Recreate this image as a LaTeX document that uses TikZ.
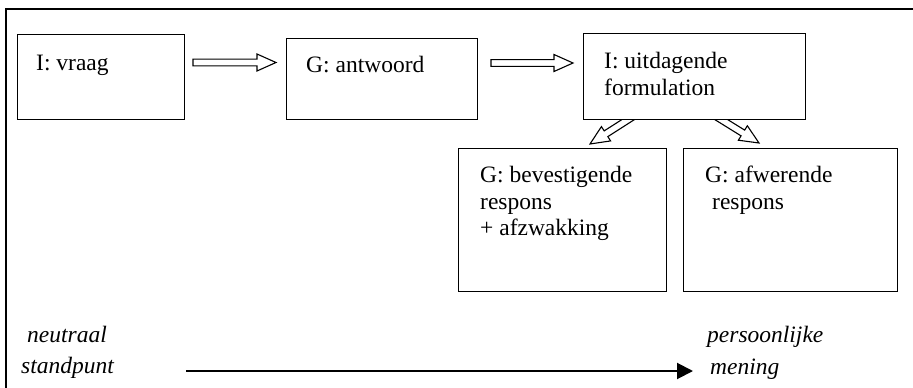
\documentclass[tikz,border=0pt]{standalone}
\usepackage{fontspec}
\setmainfont{Liberation Serif}
\usetikzlibrary{calc,arrows.meta}

% hollow block arrow from #1 (tail) to #2 (tip)
\newcommand\hollowarrow[2]{%
  \coordinate (ha-h) at ($(#2)!19pt!(#1)$);
  \draw[hollow] ($(#1)!3.4pt!90:(#2)$) -- ($(ha-h)!3.4pt!-90:(#1)$)
    -- ($(ha-h)!8.5pt!-90:(#1)$) -- (#2) -- ($(ha-h)!8.5pt!90:(#1)$)
    -- ($(ha-h)!3.4pt!90:(#1)$) -- ($(#1)!3.4pt!-90:(#2)$) -- cycle;}

\tikzset{
  box/.style={draw, line width=1.1pt, fill=white, rectangle, inner sep=0pt,
    anchor=north west},
  lbl/.style={inner sep=0pt, anchor=base west,
    font=\fontsize{23.5}{27}\selectfont},
  axislbl/.style={lbl, font=\fontsize{23.5}{27}\selectfont\itshape},
  hollow/.style={draw, line width=1.1pt, fill=white, line join=miter},
  frame/.style={line width=1.9pt},
  axis/.style={line width=2pt, -{Triangle[length=16pt,width=16pt]}},
}

\begin{document}
\begin{tikzpicture}[x=1pt, y=-1pt]
  \useasboundingbox (0,0) rectangle (913,388);

  % open frame: left and top edges
  \coordinate (fr-bl) at (6,388);
  \coordinate (fr-tl) at (6,9);
  \coordinate (fr-tr) at (913,9);
  \draw[frame] (fr-bl) -- (fr-tl) -- (fr-tr);

  % diagonal arrows out of the challenging formulation
  \coordinate (d1-tail) at (640,112);
  \coordinate (d1-tip)  at (590,144);
  \coordinate (d2-tail) at (709,112);
  \coordinate (d2-tip)  at (759,143);
  \hollowarrow{d1-tail}{d1-tip}
  \hollowarrow{d2-tail}{d2-tip}

  % boxes
  \node[box, minimum width=167pt, minimum height=85pt] (vraag)    at (17,34) {};
  \node[box, minimum width=191pt, minimum height=81pt] (antwoord) at (286,38) {};
  \node[box, minimum width=222pt, minimum height=86pt] (uitdag)   at (583,33) {};
  \node[box, minimum width=208pt, minimum height=143pt] (bevest)  at (458,148) {};
  \node[box, minimum width=214pt, minimum height=143pt] (afwer)   at (683,148) {};

  % box texts
  \node[lbl] (t-vraag) at (36,70) {I: vraag};
  \node[lbl] (t-antw)  at (306,72) {G: antwoord};
  \node[lbl] (t-uit1)  at (604,68) {I: uitdagende};
  \node[lbl] (t-uit2)  at (604,95) {formulation};
  \node[lbl] (t-bev1)  at (480,182) {G: bevestigende};
  \node[lbl] (t-bev2)  at (480,209) {respons};
  \node[lbl] (t-bev3)  at (480,235) {+ afzwakking};
  \node[lbl] (t-afw1)  at (705,182) {G: afwerende};
  \node[lbl] (t-afw2)  at (712,209) {respons};

  % horizontal arrows between the top boxes
  \coordinate (h1-tail) at (193,62.5);
  \coordinate (h1-tip)  at (276,62.5);
  \coordinate (h2-tail) at (491,63);
  \coordinate (h2-tip)  at (573,63);
  \hollowarrow{h1-tail}{h1-tip}
  \hollowarrow{h2-tail}{h2-tip}

  % scale from neutral standpoint to personal opinion
  \node[axislbl] (neutraal)  at (27,342) {neutraal};
  \node[axislbl] (standpunt) at (21,373) {standpunt};
  \node[axislbl] (persoon)   at (707,342) {persoonlijke};
  \node[axislbl] (mening)    at (710,374) {mening};
  \coordinate (ax-start) at (186,371);
  \coordinate (ax-end)   at (693,371);
  \draw[axis] (ax-start) -- (ax-end);
\end{tikzpicture}
\end{document}
